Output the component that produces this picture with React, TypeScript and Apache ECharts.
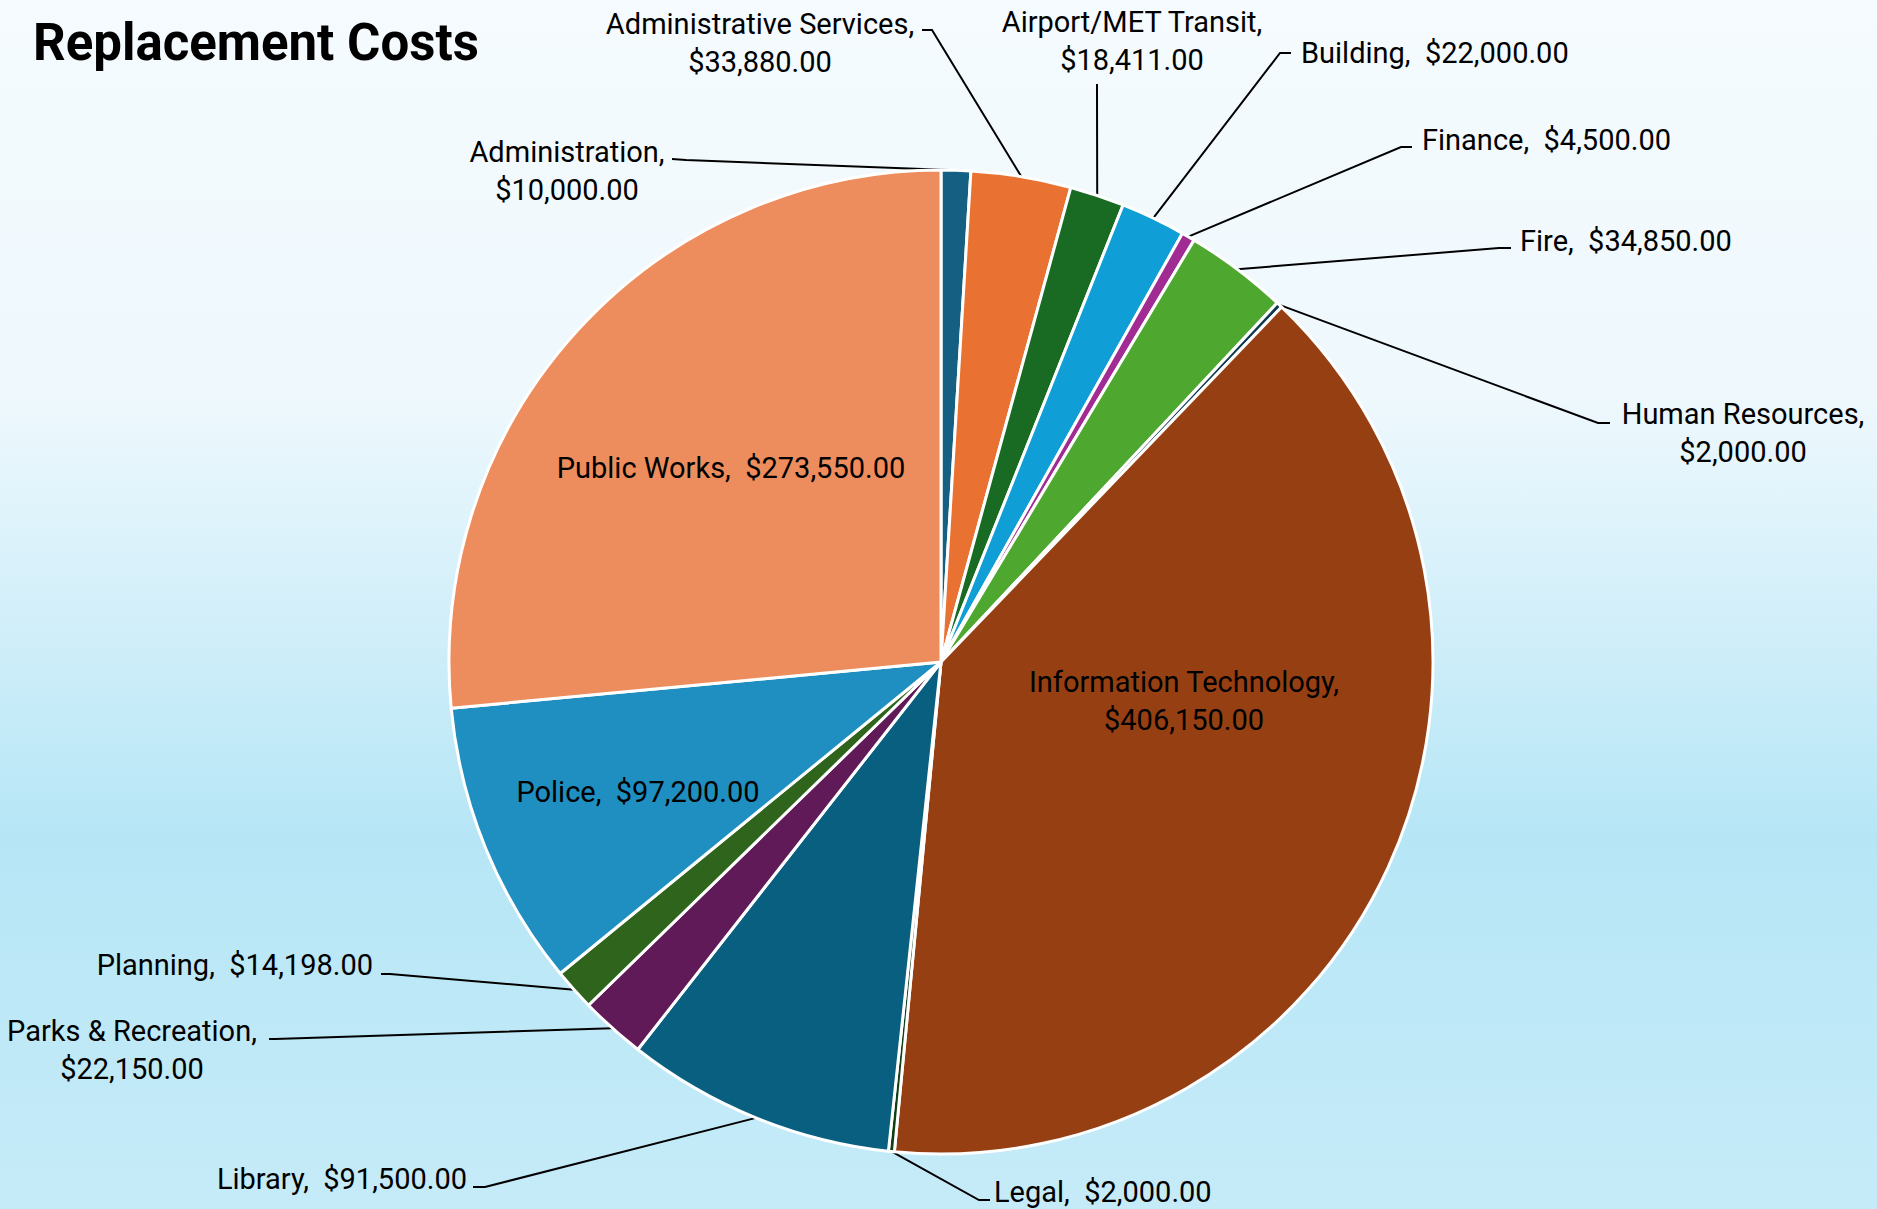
import React, { useEffect, useRef } from "react";
import * as echarts from "echarts";

const departments = [
  "Administration",
  "Administrative Services",
  "Airport/MET Transit",
  "Building",
  "Finance",
  "Fire",
  "Human Resources",
  "Information Technology",
  "Legal",
  "Library",
  "Parks & Recreation",
  "Planning",
  "Police",
  "Public Works",
];

const costs = [
  10000, 33880, 18411, 22000, 4500, 34850, 2000, 406150, 2000, 91500, 22150,
  14198, 97200, 273550,
];

const sliceColors = [
  "#156082",
  "#E97132",
  "#196B24",
  "#0F9ED5",
  "#A02B93",
  "#4EA72E",
  "#0D3A4E",
  "#963F12",
  "#0F4016",
  "#095F80",
  "#601A58",
  "#2F641C",
  "#1F8FC1",
  "#ED8D5D",
];

// label placement (layout only): anchor position, alignment, line break, leader line end & bend
type LabelPlace = {
  x: number;
  y: number;
  align: "left" | "right" | "center";
  wrap: boolean;
  inside?: boolean;
  end?: [number, number];
  bend?: [number, number];
};

const labelPlaces: LabelPlace[] = [
  { x: 567, y: 171, align: "center", wrap: true, end: [672, 159], bend: [686, 160] },
  { x: 760, y: 43, align: "center", wrap: true, end: [922, 30], bend: [932, 30] },
  { x: 1132, y: 41, align: "center", wrap: true, end: [1097, 84], bend: [1097, 90] },
  { x: 1301, y: 53, align: "left", wrap: false, end: [1291, 53], bend: [1280, 53] },
  { x: 1422, y: 140, align: "left", wrap: false, end: [1412, 147], bend: [1401, 147] },
  { x: 1520, y: 241, align: "left", wrap: false, end: [1511, 248], bend: [1499, 248] },
  { x: 1743, y: 433, align: "center", wrap: true, end: [1610, 423], bend: [1598, 423] },
  { x: 1184, y: 701, align: "center", wrap: true, inside: true },
  { x: 994, y: 1192, align: "left", wrap: false, end: [990, 1200], bend: [979, 1200] },
  { x: 467, y: 1179, align: "right", wrap: false, end: [473, 1187], bend: [485, 1187] },
  { x: 132, y: 1050, align: "center", wrap: true, end: [269, 1039], bend: [275, 1039] },
  { x: 373, y: 965, align: "right", wrap: false, end: [381, 974], bend: [390, 974] },
  { x: 638, y: 792, align: "center", wrap: false, inside: true },
  { x: 731, y: 468, align: "center", wrap: false, inside: true },
];

const FONT = "'Roboto', 'Liberation Sans', sans-serif";

const fmtMoney = (v: number) =>
  "$" +
  v.toLocaleString("en-US", { minimumFractionDigits: 2, maximumFractionDigits: 2 });

export default function App() {
  const ref = useRef<HTMLDivElement>(null);

  useEffect(() => {
    document.body.style.margin = "0";
    if (!ref.current) return;
    const chart = echarts.init(ref.current, null, { renderer: "svg" });

    const data = departments.map((name, i) => {
      const p = labelPlaces[i];
      return {
        name,
        value: costs[i],
        itemStyle: { color: sliceColors[i] },
        label: { position: p.inside ? "inside" : "outside" },
        labelLine: { show: !p.inside },
      };
    });

    chart.setOption({
      animation: false,
      backgroundColor: new echarts.graphic.LinearGradient(0, 0, 0, 1, [
        { offset: 0, color: "#f5fbfe" },
        { offset: 0.33, color: "#eef8fd" },
        { offset: 0.69, color: "#b6e6f6" },
        { offset: 1, color: "#c6ebf8" },
      ]),
      title: {
        text: "Replacement Costs",
        left: 28,
        top: 12,
        textStyle: {
          fontFamily: FONT,
          fontWeight: "bold",
          fontSize: 51,
          color: "#000",
        },
      },
      series: [
        {
          type: "pie",
          center: [941, 662],
          radius: [0, 492],
          startAngle: 90,
          clockwise: true,
          avoidLabelOverlap: false,
          itemStyle: { borderColor: "#ffffff", borderWidth: 3 },
          emphasis: { disabled: true },
          label: {
            show: true,
            color: "#000",
            fontFamily: FONT,
            fontSize: 29,
            lineHeight: 38,
            formatter: (params: any) => {
              const p = labelPlaces[params.dataIndex];
              return params.name + "," + (p.wrap ? "\n" : "  ") + fmtMoney(params.value);
            },
          },
          labelLine: {
            show: true,
            lineStyle: { color: "#000", width: 2 },
          },
          labelLayout: (params: any) => {
            const p = labelPlaces[params.dataIndex];
            const out: any = {
              x: p.x,
              y: p.y,
              align: p.align,
              verticalAlign: "middle",
              hideOverlap: false,
            };
            if (!p.inside && params.labelLinePoints && p.end && p.bend) {
              const edge = params.labelLinePoints[0];
              out.labelLinePoints = [edge, p.bend, p.end];
            }
            return out;
          },
          data,
        },
      ],
    });

    return () => chart.dispose();
  }, []);

  return <div ref={ref} style={{ width: 1877, height: 1209 }} />;
}
